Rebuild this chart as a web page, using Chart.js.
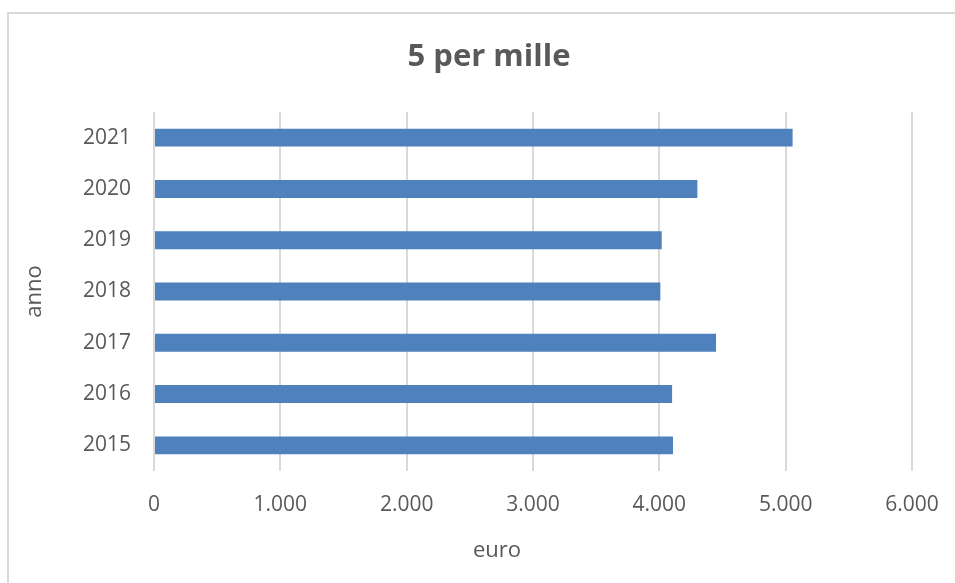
<!DOCTYPE html>
<html>
<head>
<meta charset="utf-8">
<script src="https://cdn.jsdelivr.net/npm/chart.js@4.4.0/dist/chart.umd.min.js"></script>
<style>
  html, body { margin: 0; padding: 0; background: #fff; overflow: hidden; }
  #frame { position: absolute; left: 7px; top: 12px; width: 1000px; height: 1000px; border: 2px solid #d9d9d9; }
  #wrap { position: absolute; left: 0; top: 0; width: 955px; height: 583px; }
</style>
</head>
<body>
<div id="frame"></div>
<div id="wrap"><canvas id="barChart" width="955" height="583"></canvas></div>
<script>
// data
var anni = ["2015", "2016", "2017", "2018", "2019", "2020", "2021"];
var importi = [4108, 4101, 4449, 4008, 4019, 4301, 5055];
var xTicks = [0, 1000, 2000, 3000, 4000, 5000, 6000];

var textColor = "#595959";
var fontFamily = "'Open Sans', sans-serif";

function fmt(v) {
  return String(v).replace(/\B(?=(\d{3})+(?!\d))/g, ".");
}

// draw title and x axis title (positioned like the original, not centred on plot area)
var titlesPlugin = {
  id: "titles",
  afterDraw: function (chart) {
    var ctx = chart.ctx;
    ctx.save();
    ctx.fillStyle = textColor;
    ctx.textAlign = "center";
    ctx.textBaseline = "middle";
    ctx.font = "bold 31px " + fontFamily;
    ctx.fillText("5 per mille", 489, 57);
    ctx.font = "22px " + fontFamily;
    ctx.fillText("euro", 497, 551);
    ctx.restore();
  },
};

const ctx = document.getElementById("barChart").getContext("2d");
new Chart(ctx, {
  type: "bar",
  data: {
    labels: anni,
    datasets: [
      {
        label: "euro",
        data: importi,
        backgroundColor: "#4f81bd",
        borderWidth: 0,
        categoryPercentage: 0.5,
        barPercentage: 0.7,
      },
    ],
  },
  plugins: [titlesPlugin],
  options: {
    indexAxis: "y",
    responsive: false,
    devicePixelRatio: 1,
    animation: false,
    layout: {
      padding: { top: 112, right: 43, bottom: 0, left: 0 },
    },
    plugins: {
      legend: { display: false },
      title: { display: false },
      tooltip: { enabled: false },
    },
    scales: {
      x: {
        min: 0,
        max: 6000,
        afterFit: function (scale) {
          scale.height = 112;
          scale.paddingLeft = 0;
          scale.paddingRight = 0;
        },
        afterBuildTicks: function (scale) {
          scale.ticks = xTicks.map(function (v) { return { value: v }; });
        },
        grid: {
          color: "#d9d9d9",
          lineWidth: 2,
          drawTicks: false,
        },
        border: { display: false },
        ticks: {
          padding: 21,
          color: textColor,
          font: { family: fontFamily, size: 21 },
          callback: function (v) { return fmt(v); },
        },
      },
      y: {
        reverse: true,
        afterFit: function (scale) {
          scale.width = 154;
          scale.paddingTop = 0;
          scale.paddingBottom = 0;
        },
        grid: { display: false, drawTicks: false },
        border: { display: false },
        ticks: {
          padding: 23,
          color: textColor,
          font: { family: fontFamily, size: 21 },
        },
        title: {
          display: true,
          text: "anno",
          color: textColor,
          font: { family: fontFamily, size: 22 },
          padding: { top: 22, bottom: 0 },
        },
      },
    },
  },
});
</script>
</body>
</html>
